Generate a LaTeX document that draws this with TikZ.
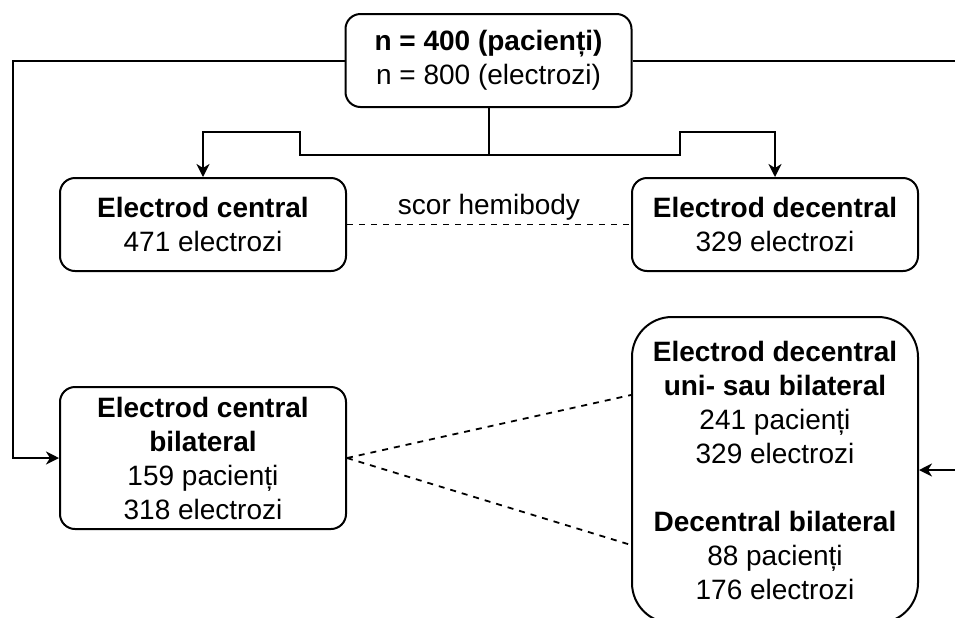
\documentclass[tikz,border=0pt]{standalone}
\usepackage{fontspec}
\setmainfont{Liberation Sans}
\usetikzlibrary{arrows.meta}
\begin{document}
\begin{tikzpicture}
  [
    x=0.5pt, y=-0.5pt,
    box/.style =
      {draw, line width=1pt, rounded corners=7.5pt, align=center, inner sep=0pt,
       minimum width=143pt, minimum height=46.5pt,
       font=\fontsize{14}{17}\selectfont},
    sarrow/.style =
      { ->, >={Stealth[length=6.5pt, width=6.5pt, inset=2pt]}, line width=1pt},
    dline/.style =
      { line width=0.9pt, dash pattern=on 3pt off 3pt}
  ]
  \clip (0,0) rectangle (955,617);
  \node [box] at (488.5, 60.5) (top) {\textbf{n = 400 (pacienți)}\\ n = 800 (electrozi)};
  \node [box] at (203, 224.5) (cen) {\textbf{Electrod central}\\ 471 electrozi};
  \node [box] at (775, 224.5) (dec) {\textbf{Electrod decentral}\\ 329 electrozi};
  \node [box, minimum height=71pt] at (203, 458) (cbil)
    {\textbf{Electrod central}\\ \textbf{bilateral}\\ 159 pacienți\\ 318 electrozi};
  \node [box, minimum height=153pt, rounded corners=20pt] at (775, 470) (dbil)
    {\textbf{Electrod decentral}\\ \textbf{uni- sau bilateral}\\ 241 pacienți\\ 329 electrozi\\[17pt]
     \textbf{Decentral bilateral}\\ 88 pacienți\\ 176 electrozi};

  \draw [sarrow] (top.south) -- ++(0,47) -- ++(-189,0) -- ++(0,-23) -| (cen.north);
  \draw [sarrow] (top.south) -- ++(0,47) -- ++(191,0) -- ++(0,-23) -| (dec.north);
  \draw [sarrow] (top.west) -- ++(-332,0) |- (cbil.west);
  \draw [sarrow] (top.east) -- ++(360,0) |- (dbil.east);

  \draw [dline] (cen.east) -- node[above, inner sep=1.5pt, font=\fontsize{14}{17}\selectfont] {scor hemibody} (dec.west);
  \draw [dline] (cbil.east) -- ([yshift=37.5pt]dbil.west);
  \draw [dline] (cbil.east) -- ([yshift=-37.5pt]dbil.west);
\end{tikzpicture}
\end{document}
